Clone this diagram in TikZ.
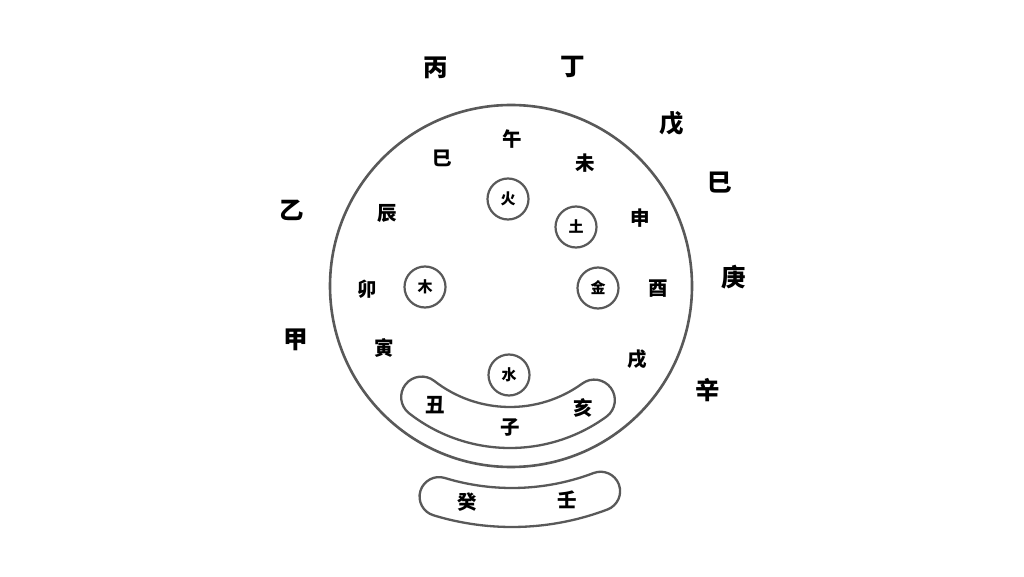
\documentclass[tikz,border=0pt]{standalone}
\usepackage{fontspec}
\usetikzlibrary{calc}
\newfontfamily\cjk{Noto Sans CJK SC}
\begin{document}
\begin{tikzpicture}[x=1pt,y=1pt,
  lineclr/.style={draw=black!65, line width=2.6pt},
  stemlbl/.style={inner sep=0pt, font=\cjk\bfseries\fontsize{24.5}{24.5}\selectfont},
  branchlbl/.style={inner sep=0pt, font=\cjk\bfseries\fontsize{19.5}{19.5}\selectfont},
  elemcirc/.style={circle, draw=black!65, line width=2.2pt, minimum size=41pt, inner sep=0pt, font=\cjk\bfseries\fontsize{15}{15}\selectfont}]
\useasboundingbox[fill=white] (0,0) rectangle (1024,576);
% main circle
\node[circle, lineclr, minimum size=362pt, inner sep=0pt] (main) at (511,290) {};
% upper crescent (band) centred at (510,292)
\coordinate (c1) at (510,292);
\draw[lineclr, line width=2.3pt, line join=round]
  ($(c1)+(232:164)$) coordinate (b1s)
  arc[start angle=232, end angle=306, radius=164pt]
  arc[start angle=306, end angle=486, radius=20.5pt]
  arc[start angle=306, end angle=232, radius=123pt]
  arc[start angle=52, end angle=232, radius=20.5pt] -- cycle;
% lower band centred at (512,318)
\coordinate (c2) at (512,318);
\draw[lineclr, line width=2.3pt, line join=round]
  ($(c2)+(253:269)$) coordinate (b2s)
  arc[start angle=253, end angle=290.8, radius=269pt]
  arc[start angle=290.8, end angle=470.8, radius=19.5pt]
  arc[start angle=290.8, end angle=253, radius=230pt]
  arc[start angle=73, end angle=253, radius=19.5pt] -- cycle;
% element circles
\node[elemcirc] (fire)  at (508,377) {火};
\node[elemcirc] (earth) at (576,349) {土};
\node[elemcirc] (metal) at (598,288) {金};
\node[elemcirc] (wood)  at (425,289) {木};
\node[elemcirc] (water) at (509,201) {水};
% branches
\node[branchlbl] (wu)   at (512,437) {午};
\node[branchlbl] (si)   at (442,418) {巳};
\node[branchlbl] (wei)  at (585,413) {未};
\node[branchlbl] (chen) at (387,363) {辰};
\node[branchlbl] (shen) at (640,358) {申};
\node[branchlbl] (mao)  at (367,287) {卯};
\node[branchlbl] (you)  at (658,287) {酉};
\node[branchlbl] (yin)  at (384,228) {寅};
\node[branchlbl] (xu)   at (637,217) {戌};
\node[branchlbl] (chou) at (435,171) {丑};
\node[branchlbl] (zi)   at (510,148) {子};
\node[branchlbl] (hai)  at (583,168) {亥};
\node[branchlbl] (gui)  at (467,74) {癸};
\node[branchlbl] (ren)  at (567,76) {壬};
% stems
\node[stemlbl] (bing) at (436,508) {丙};
\node[stemlbl] (ding) at (573,509) {丁};
\node[stemlbl] (wus)  at (672,453) {戊};
\node[stemlbl] (jis)  at (720,393) {巳};
\node[stemlbl] (geng) at (734,299) {庚};
\node[stemlbl] (xin)  at (708,186) {辛};
\node[stemlbl] (yi)   at (292,366) {乙};
\node[stemlbl] (jia)  at (296,236) {甲};
\end{tikzpicture}
\end{document}
